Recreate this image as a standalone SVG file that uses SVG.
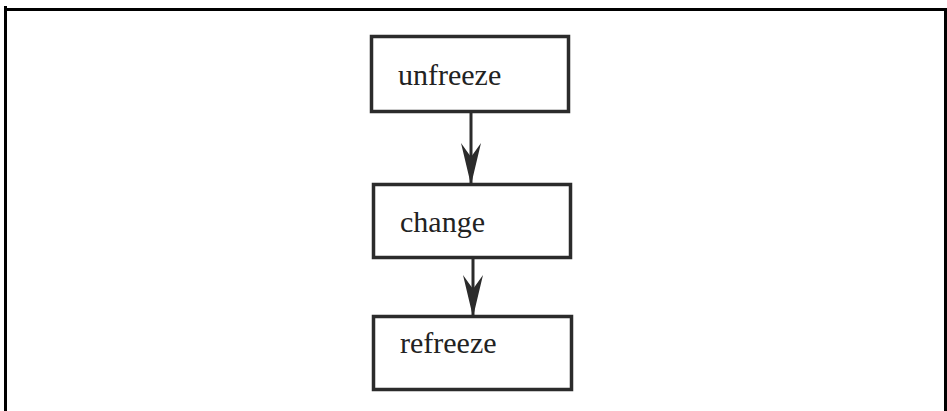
<svg xmlns="http://www.w3.org/2000/svg" width="947" height="411" viewBox="0 0 947 411">
<style>
.frame{fill:none;stroke:#000;stroke-width:3}
.box rect{fill:#fff;stroke:#2b2b2b;stroke-width:3.5}
.box text{font-family:"Liberation Serif","Times New Roman",serif;font-size:30px;fill:#222}
.conn line{stroke:#2b2b2b;stroke-width:3}
</style>
<defs>
<marker id="ah" markerUnits="userSpaceOnUse" markerWidth="42" markerHeight="20" refX="40" refY="10" orient="auto" viewBox="0 0 42 20">
<path d="M0,0 L14,10 L0,20 L42,10 Z" fill="#2b2b2b"/>
</marker>
</defs>
<rect width="947" height="411" fill="#fff"/>
<path class="frame" d="M5.5,6 V411 M4,9.5 H945.5 V411"/>
<g id="unfreeze" class="box">
<rect x="371.5" y="36.5" width="197" height="75"/>
<text x="398" y="85">unfreeze</text>
</g>
<g id="change" class="box">
<rect x="373.5" y="184.5" width="197" height="73"/>
<text x="400" y="232">change</text>
</g>
<g id="refreeze" class="box">
<rect x="373.5" y="316.5" width="198" height="73"/>
<text x="400" y="353">refreeze</text>
</g>
<g id="connectors" class="conn">
<line x1="471" y1="113" x2="471" y2="183" marker-end="url(#ah)"/>
<line x1="473" y1="259" x2="473" y2="315" marker-end="url(#ah)"/>
</g>
</svg>
